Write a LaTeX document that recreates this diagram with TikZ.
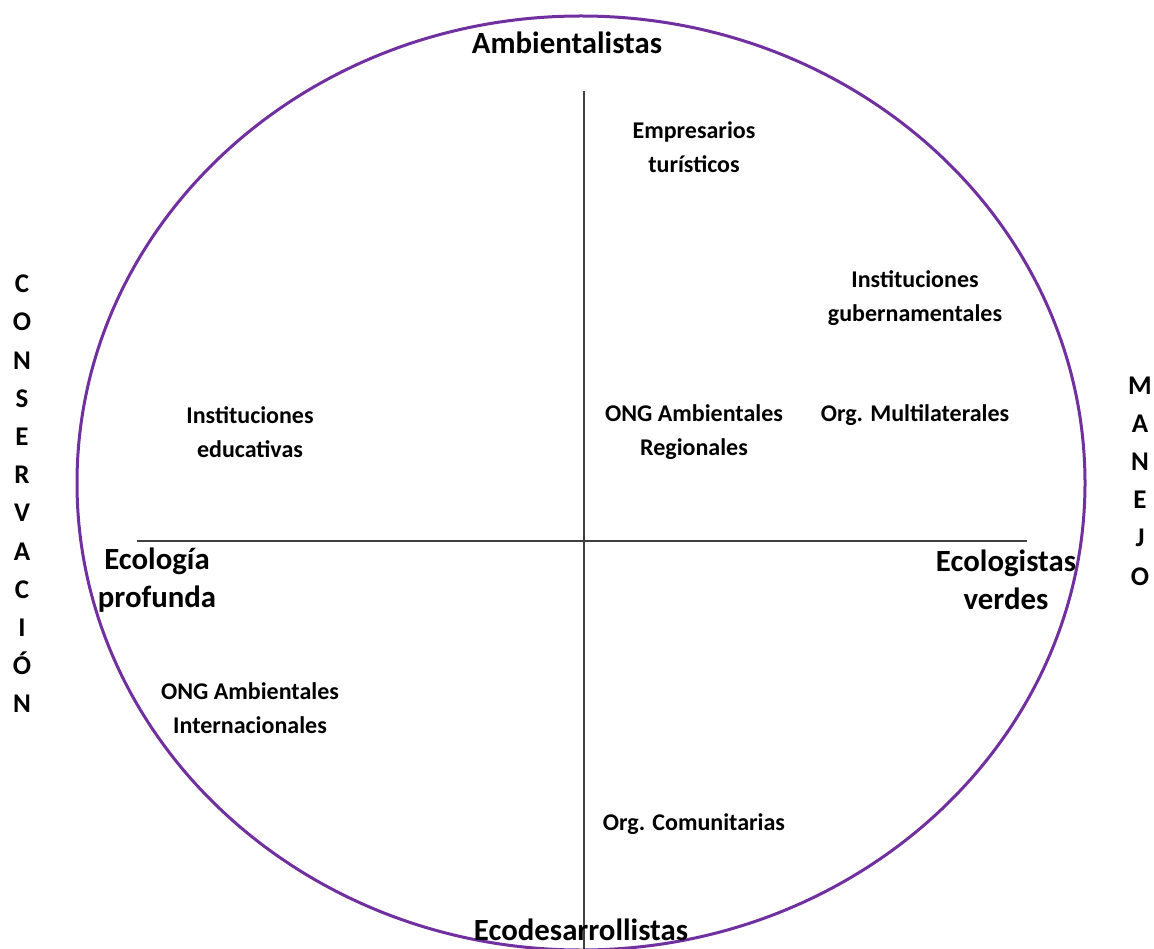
\documentclass[tikz,border=0pt]{standalone}
\usepackage{fontspec}
\setmainfont{Carlito}
\definecolor{ringpurple}{HTML}{7030A0}
\definecolor{axisgray}{HTML}{404040}
\tikzset{
  big/.style={font=\bfseries\fontsize{30.8}{38.5}\selectfont, align=center, inner sep=0pt},
  small/.style={font=\bfseries\fontsize{24}{33.5}\selectfont, align=center, inner sep=0pt},
  axislabel/.style={font=\bfseries\fontsize{27}{38.2}\selectfont, align=center, inner sep=0pt},
  ring/.style={draw=ringpurple, line width=3pt},
  axisline/.style={draw=axisgray, line width=1.8pt}
}
\begin{document}
\begin{tikzpicture}[x=1pt,y=-1pt]
\useasboundingbox (0,0) rectangle (1154,949);
\path[ring] (581,483) ellipse [x radius=504, y radius=467];
\coordinate (vtop) at (584,91);
\coordinate (vbot) at (584,960);
\coordinate (hleft) at (137,541);
\coordinate (hright) at (1027,541);
\path[axisline] (vtop) -- (vbot);
\path[axisline] (hleft) -- (hright);
\node[big] (amb) at (567,43) {Ambientalistas};
\node[big] (eco) at (581,930) {Ecodesarrollistas};
\node[big] (ecoprof) at (157,580) {Ecología\\profunda};
\node[big] (ecoverd) at (1006,580) {Ecologistas\\verdes};
\node[small] (emp) at (694,147) {Empresarios\\turísticos};
\node[small] (gub) at (915,298) {Instituciones\\gubernamentales};
\node[small] (edu) at (250,432) {Instituciones\\educativas};
\node[small] (reg) at (694,432) {ONG Ambientales\\Regionales};
\node[small] (mult) at (915,415) {Org. Multilaterales};
\node[small] (int) at (250,708) {ONG Ambientales\\Internacionales};
\node[small] (com) at (694,824) {Org. Comunitarias};
\node[axislabel] (cons) at (22,494) {C\\O\\N\\S\\E\\R\\V\\A\\C\\I\\Ó\\N};
\node[axislabel] (man) at (1140,481) {M\\A\\N\\E\\J\\O};
\end{tikzpicture}
\end{document}
